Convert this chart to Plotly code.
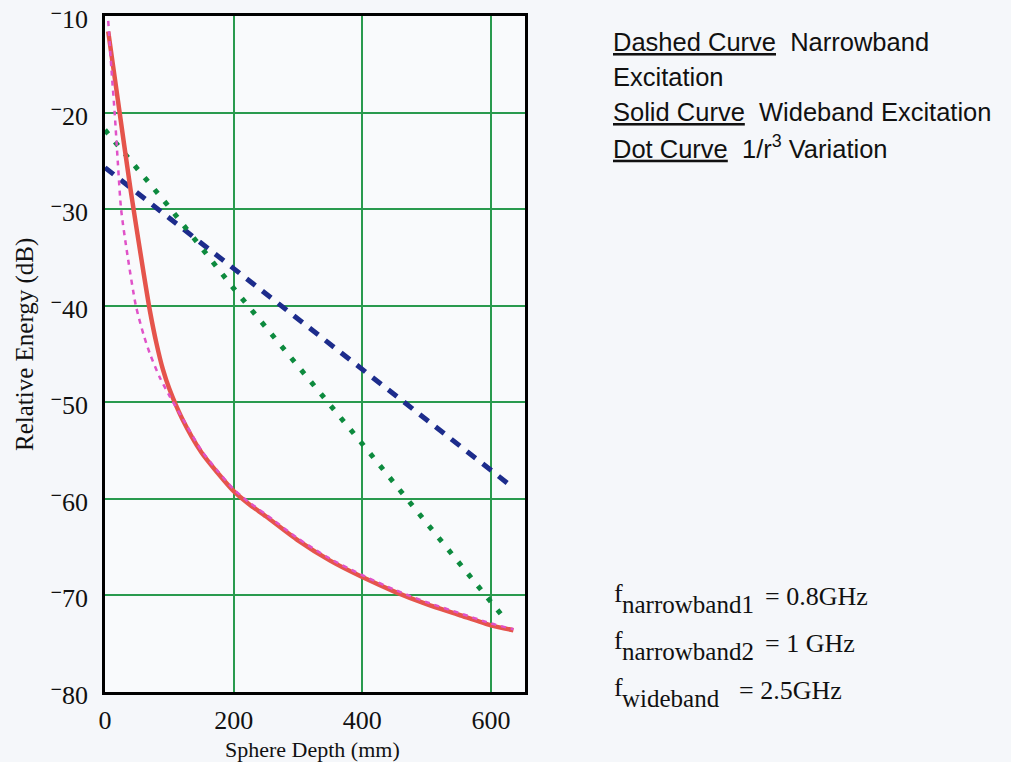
import plotly.graph_objects as go

# ---- data -------------------------------------------------------------
# Wideband excitation (solid curve)
wide_depth = [5, 20, 40, 60, 70, 80, 90, 100, 120, 150, 175, 200, 225, 250, 300, 350, 400, 450, 500, 550, 600, 635]
wide_db = [-11.6, -18.7, -28.1, -36.6, -40.6, -43.9, -46.6, -48.6, -51.7, -55.2, -57.3, -59.2, -60.6,
           -61.8, -64.3, -66.4, -68.1, -69.6, -70.9, -72.0, -73.1, -73.6]

# Wideband reference trace (thin dotted magenta)
wide2_depth = [5, 10, 15, 20, 25, 35, 48, 60, 70, 85, 100, 120, 150, 175, 200, 225, 250, 300, 350, 400,
               450, 500, 550, 600, 635]
wide2_db = [-10.5, -15.5, -20.0, -25.2, -30.0, -34.8, -40.0, -43.0, -45.0, -47.4, -49.3, -51.6, -55.0,
            -57.1, -59.0, -60.4, -61.6, -64.1, -66.2, -67.9, -69.4, -70.7, -71.8, -72.9, -73.5]

# Narrowband excitation (dashed curve)
narrow_depth = [0, 100, 200, 300, 400, 500, 600, 630]
narrow_db = [-25.7, -30.9, -36.1, -41.4, -46.6, -51.8, -57.0, -58.6]

# 1/r^3 variation (dotted curve)
cube_depth = [0, 100, 200, 300, 400, 500, 600, 620]
cube_db = [-21.8, -29.8, -38.2, -46.2, -54.3, -62.5, -70.6, -72.3]

x_tick_vals = [0, 200, 400, 600]
x_tick_text = ["0", "200", "400", "600"]
y_tick_vals = [-80, -70, -60, -50, -40, -30, -20, -10]
y_tick_numbers = ["80", "70", "60", "50", "40", "30", "20", "10"]

legend_lines = [
    "<u>Dashed Curve</u>  Narrowband",
    "Excitation",
    "<u>Solid Curve</u>  Wideband Excitation",
    "<u>Dot Curve</u>  1/r<sup>3</sup> Variation",
]
freq_names = ["narrowband1", "narrowband2", "wideband"]
freq_values = ["= 0.8GHz", "= 1 GHz", "= 2.5GHz"]

# ---- layout geometry (pixels) ------------------------------------------
W, H = 1011, 762
L, R, T, B = 105, 486, 16, 70
PW, PH = W - L - R, H - T - B


def px_x(px):
    return (px - L) / PW


def px_y(py):
    return (H - B - py) / PH


SERIF = "Liberation Serif, Times New Roman, serif"
SANS = "Liberation Sans, Arial, sans-serif"
INK = "#111111"
TICK_SIZE = 26
Y_BASE_SIZE = 20

# raised, bold minus sign in front of each y tick number
y_tick_text = [
    f'<sup><span style="font-size:{Y_BASE_SIZE}px"><b>−</b></span></sup>'
    f'<span style="font-size:{TICK_SIZE}px">{n}</span>'
    for n in y_tick_numbers
]

fig = go.Figure()

fig.add_trace(go.Scatter(x=narrow_depth, y=narrow_db, mode="lines",
                         line=dict(color="#1d2c8c", width=5, dash="11px,9px")))
fig.add_trace(go.Scatter(x=cube_depth, y=cube_db, mode="lines",
                         line=dict(color="#0d8a3e", width=5, dash="5px,10.5px")))
fig.add_trace(go.Scatter(x=wide_depth, y=wide_db, mode="lines",
                         line=dict(color="#e5544c", width=4.5, shape="spline", smoothing=0.7)))
fig.add_trace(go.Scatter(x=wide2_depth, y=wide2_db, mode="lines",
                         line=dict(color="#e052c8", width=2.5, dash="5px,5px", shape="spline", smoothing=0.7)))

axis_common = dict(
    showline=True, linecolor="black", linewidth=3, mirror=True,
    showgrid=True, gridcolor="#2a9a4e", gridwidth=1.5,
    zeroline=False, ticks="", ticklabeloverflow="allow", automargin=False,
)

fig.update_xaxes(range=[0, 653], tickvals=x_tick_vals, ticktext=x_tick_text,
                 ticklabelstandoff=3, tickfont=dict(family=SERIF, size=TICK_SIZE, color=INK),
                 **axis_common)
fig.update_yaxes(range=[-80, -10], tickvals=y_tick_vals, ticktext=y_tick_text,
                 ticklabelstandoff=10, ticklabelshift=5,
                 tickfont=dict(family=SERIF, size=Y_BASE_SIZE, color=INK),
                 **axis_common)

annotations = [
    dict(text="Sphere Depth (mm)", x=px_x(312), y=px_y(749), xref="paper", yref="paper",
         xanchor="center", yanchor="middle", showarrow=False,
         font=dict(family=SERIF, size=22, color=INK)),
    dict(text="Relative Energy (dB)", x=px_x(25), y=px_y(345), xref="paper", yref="paper",
         xanchor="center", yanchor="middle", showarrow=False, textangle=-90,
         font=dict(family=SERIF, size=25, color=INK)),
]
for txt, cy in zip(legend_lines, [42, 77, 112, 147]):
    annotations.append(dict(text=txt, x=px_x(611), y=px_y(cy), xref="paper", yref="paper",
                            xanchor="left", yanchor="middle", showarrow=False,
                            font=dict(family=SANS, size=25.5, color=INK)))

# frequency notes: "f", a lowered subscript name, then the value
for name, val, cy, vx in zip(freq_names, freq_values, [596, 643, 690], [763, 763, 737]):
    annotations.append(dict(text="f", x=px_x(612), y=px_y(cy - 3), xref="paper", yref="paper",
                            xanchor="left", yanchor="middle", showarrow=False,
                            font=dict(family=SERIF, size=26, color=INK)))
    annotations.append(dict(text=name, x=px_x(620), y=px_y(cy + 8), xref="paper", yref="paper",
                            xanchor="left", yanchor="middle", showarrow=False,
                            font=dict(family=SERIF, size=25, color=INK)))
    annotations.append(dict(text=val, x=px_x(vx), y=px_y(cy), xref="paper", yref="paper",
                            xanchor="left", yanchor="middle", showarrow=False,
                            font=dict(family=SERIF, size=26, color=INK)))

fig.update_layout(
    width=W, height=H,
    margin=dict(l=L, r=R, t=T, b=B, pad=0, autoexpand=False),
    paper_bgcolor="#f5f7fa", plot_bgcolor="#f9fafc",
    showlegend=False,
    annotations=annotations,
)

fig.write_html("out.html", config={"displayModeBar": False})
